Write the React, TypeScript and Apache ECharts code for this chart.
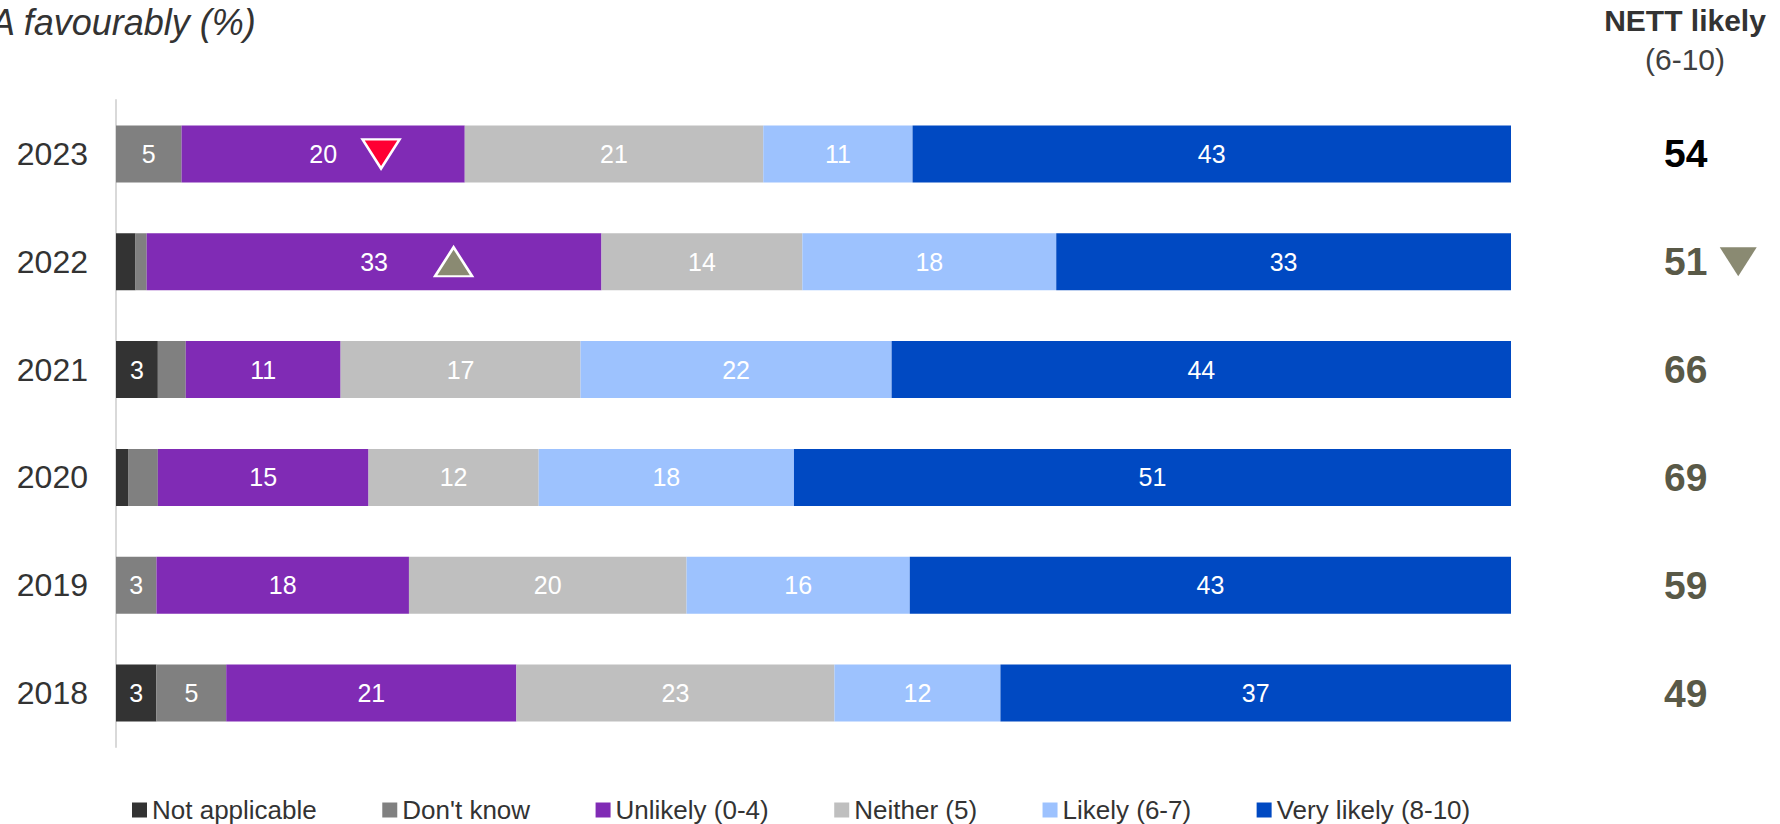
import React, { useEffect, useRef } from "react";
import * as echarts from "echarts";

const years = ["2023", "2022", "2021", "2020", "2019", "2018"];
const seriesNames = ["Not applicable", "Don't know", "Unlikely (0-4)", "Neither (5)", "Likely (6-7)", "Very likely (8-10)"];
const seriesColors = ["#333333", "#808080", "#802BB5", "#BFBFBF", "#9DC2FE", "#0049C2"];
const notApplicable = [0, 1.4, 3.0, 0.9, 0, 2.9];
const dontKnow = [4.7, 0.8, 2.0, 2.1, 2.9, 5.0];
const unlikely = [20.3, 32.6, 11.1, 15.1, 18.1, 20.8];
const neither = [21.4, 14.4, 17.2, 12.2, 19.9, 22.8];
const likely = [10.7, 18.2, 22.3, 18.3, 16.0, 11.9];
const veryLikely = [42.9, 32.6, 44.4, 51.4, 43.1, 36.6];
const nettLikely = [54, 51, 66, 69, 59, 49];
const nettColors = ["#000000", "#595947", "#595947", "#595947", "#595947", "#595947"];
const nettTrend = ["", "down", "", "", "", ""];
// significance markers inside bars: [year, x-position, direction, colour]
const barMarkers: [string, number, string, string][] = [
  ["2023", 19.0, "down", "#FF0033"],
  ["2022", 24.2, "up", "#8A8A72"],
];

export default function App() {
  const ref = useRef<HTMLDivElement>(null);
  useEffect(() => {
    if (!ref.current) return;
    const chart = echarts.init(ref.current, null, { renderer: "svg" });
    const values = [notApplicable, dontKnow, unlikely, neither, likely, veryLikely];
    const barSeries = seriesNames.map((name, i) => ({
      name,
      type: "bar",
      stack: "total",
      xAxisIndex: 0,
      yAxisIndex: 0,
      barWidth: 57,
      itemStyle: { color: seriesColors[i] },
      label: {
        show: true,
        position: "inside",
        color: "#ffffff",
        fontSize: 25,
        formatter: (p: any) => (p.value >= 2.5 ? String(Math.round(p.value)) : ""),
      },
      data: values[i],
    }));
    chart.setOption({
      animation: false,
      textStyle: { fontFamily: "Liberation Sans, Arial, sans-serif" },
      grid: [
        { left: 116, right: 269, top: 100, bottom: 77 },
        { left: 1664, right: 0, top: 100, bottom: 77 },
      ],
      xAxis: [
        { type: "value", gridIndex: 0, min: 0, max: 100, show: false },
        { type: "value", gridIndex: 1, min: 0, max: 100, show: false },
      ],
      yAxis: [
        {
          type: "category",
          gridIndex: 0,
          data: years,
          inverse: true,
          axisLine: { show: true, lineStyle: { color: "#D9D9D9", width: 2 } },
          axisTick: { show: false },
          axisLabel: { fontSize: 32, color: "#333333", margin: 28 },
        },
        { type: "category", gridIndex: 1, data: years, inverse: true, show: false },
      ],
      legend: {
        data: seriesNames,
        left: 127,
        top: 792,
        icon: "rect",
        itemWidth: 15,
        itemHeight: 15,
        itemGap: 65.5,
        textStyle: { fontSize: 26, color: "#333333" },
      },
      graphic: [
        {
          type: "text",
          x: -9,
          y: 22,
          style: {
            text: "A favourably (%)",
            font: "italic 36px 'Liberation Sans', Arial, sans-serif",
            fill: "#333333",
            verticalAlign: "middle",
          },
        },
        {
          type: "text",
          x: 1685,
          y: 20,
          style: {
            text: "NETT likely",
            font: "bold 30px 'Liberation Sans', Arial, sans-serif",
            fill: "#333333",
            align: "center",
            verticalAlign: "middle",
          },
        },
        {
          type: "text",
          x: 1685,
          y: 59,
          style: {
            text: "(6-10)",
            font: "30px 'Liberation Sans', Arial, sans-serif",
            fill: "#404040",
            align: "center",
            verticalAlign: "middle",
          },
        },
      ],
      series: [
        ...barSeries,
        {
          name: "markers",
          type: "scatter",
          xAxisIndex: 0,
          yAxisIndex: 0,
          z: 5,
          symbol: "triangle",
          symbolSize: [37, 29],
          data: barMarkers.map(([y, x, dir, color]) => ({
            value: [x, y],
            symbolRotate: dir === "down" ? 180 : 0,
            itemStyle: { color, opacity: 1, borderColor: "#ffffff", borderWidth: 2.5 },
          })),
        },
        {
          name: "nett",
          type: "scatter",
          xAxisIndex: 1,
          yAxisIndex: 1,
          symbolSize: 0,
          itemStyle: { opacity: 1 },
          label: {
            show: true,
            position: "right",
            distance: 0,
            fontSize: 39,
            fontWeight: "bold",
            formatter: (p: any) => String(nettLikely[p.dataIndex]),
          },
          data: years.map((y, i) => ({
            value: [0, y],
            label: { color: nettColors[i] },
          })),
        },
        {
          name: "nettTrend",
          type: "scatter",
          xAxisIndex: 1,
          yAxisIndex: 1,
          symbol: "triangle",
          symbolSize: [37, 29],
          itemStyle: { color: "#8A8A72", opacity: 1 },
          data: years
            .map((y, i) => ({ y, t: nettTrend[i] }))
            .filter((d) => d.t !== "")
            .map((d) => ({ value: [64, d.y], symbolRotate: d.t === "down" ? 180 : 0 })),
        },
      ],
    });
    return () => chart.dispose();
  }, []);
  return (
    <div
      ref={ref}
      style={{ position: "fixed", left: 0, top: 0, width: 1780, height: 824, background: "#ffffff" }}
    />
  );
}
